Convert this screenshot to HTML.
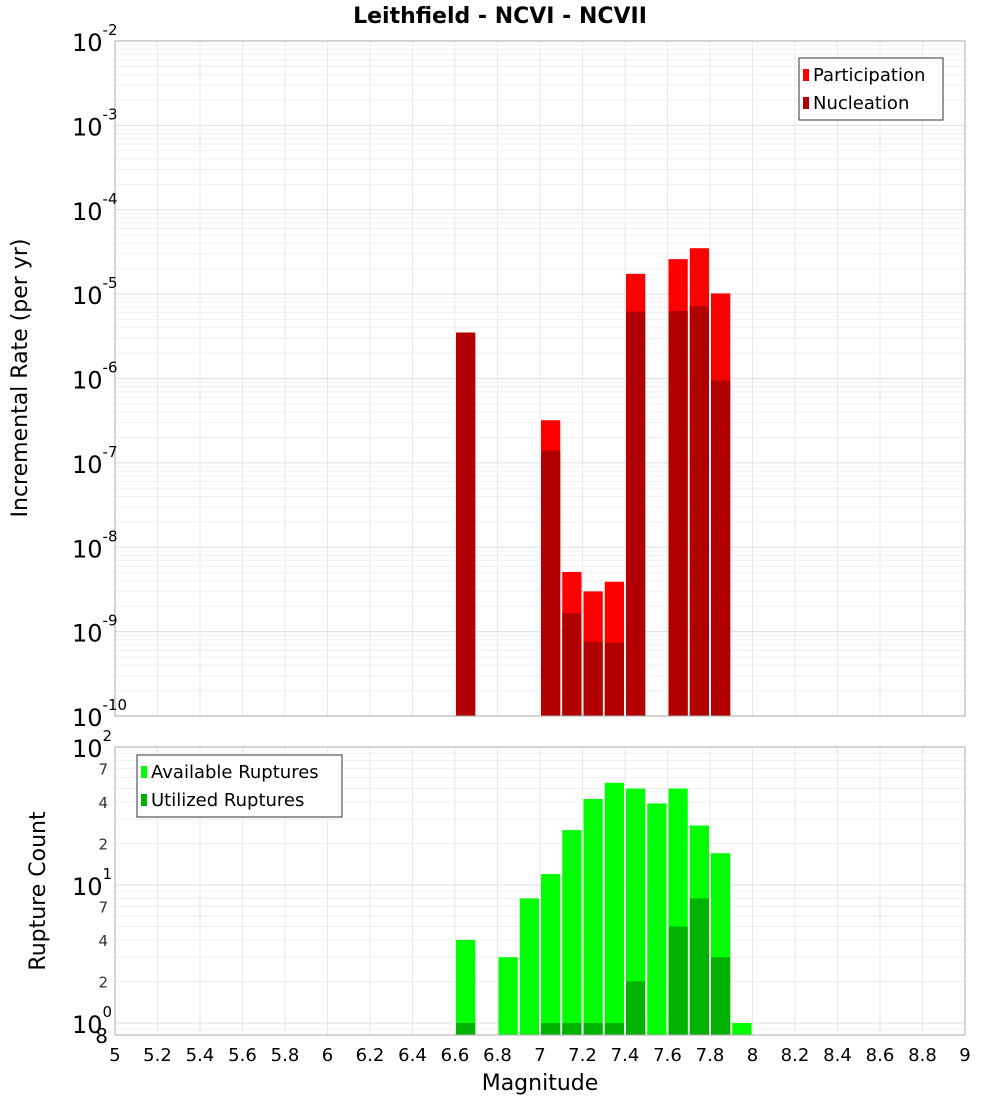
<!DOCTYPE html>
<html><head><meta charset="utf-8"><style>
body{margin:0;background:#fff;}
svg{display:block;font-family:"DejaVu Sans","Liberation Sans",sans-serif;}
</style></head><body>
<svg id="c" width="1000" height="1100" xmlns="http://www.w3.org/2000/svg"></svg>
<script>
const mags = [6.65, 7.05, 7.15, 7.25, 7.35, 7.45, 7.65, 7.75, 7.85];
const participation = [3.5e-6, 3.2e-7, 5.1e-9, 3.0e-9, 3.9e-9, 1.74e-5, 2.6e-5, 3.5e-5, 1.02e-5];
const nucleation = [3.5e-6, 1.4e-7, 1.65e-9, 7.6e-10, 7.4e-10, 6.2e-6, 6.3e-6, 7.2e-6, 9.5e-7];
const countMags = [6.65, 6.85, 6.95, 7.05, 7.15, 7.25, 7.35, 7.45, 7.55, 7.65, 7.75, 7.85, 7.95];
const available = [4, 3, 8, 12, 25, 42, 55, 50, 39, 50, 27, 17, 1];
const utilized = [1, 0, 0, 1, 1, 1, 1, 2, 0, 5, 8, 3, 0];
const xTicks = ["5","5.2","5.4","5.6","5.8","6","6.2","6.4","6.6","6.8","7","7.2","7.4","7.6","7.8","8","8.2","8.4","8.6","8.8","9"];

const NS="http://www.w3.org/2000/svg", svg=document.getElementById('c');
function mk(t,a,p){const e=document.createElementNS(NS,t);for(const k in a)e.setAttribute(k,a[k]);(p||svg).appendChild(e);return e;}
const X0=115,X1=965;
const xs=m=>X0+(m-5)/4*(X1-X0);
const T0=41,T1=716;
const yTop=v=>T0+(-2-Math.log10(v))/8*(T1-T0);
const B0=747,B1=1035,BD=138;
const yBot=v=>B0+(2-Math.log10(v))*BD;
const bw=(X1-X0)/40;

// grids
function vgrid(y0,y1){for(let i=0;i<=20;i++){const x=xs(5+i*0.2);const l=mk('line',{x1:x,x2:x,y1:y0,y2:y1,stroke:'#e8e8e8'});}}
vgrid(T0,T1);vgrid(B0,B1);
for(let d=-10;d<-2;d++)for(let k=1;k<10;k++){const y=yTop(k*Math.pow(10,d));const l=mk('line',{x1:X0,x2:X1,y1:y,y2:y,stroke:k==1?'#e0e0e0':'#f0f0f0'});}
for(let d=-1;d<2;d++)for(let k=1;k<10;k++){const v=k*Math.pow(10,d);const y=yBot(v);if(y>B1||y<B0)continue;const l=mk('line',{x1:X0,x2:X1,y1:y,y2:y,stroke:k==1?'#e0e0e0':'#f0f0f0'});}

// top bars
mags.forEach((m,i)=>{
  let r=mk('rect',{x:xs(m)-bw/2+1,width:bw-2,y:yTop(participation[i]),height:T1-yTop(participation[i]),fill:'#ff0000'});
  
  r=mk('rect',{x:xs(m)-bw/2+1,width:bw-2,y:yTop(nucleation[i]),height:T1-yTop(nucleation[i]),fill:'#b20000'});
  
});
countMags.forEach((m,i)=>{
  let r=mk('rect',{x:xs(m)-bw/2+1,width:bw-2,y:yBot(available[i]),height:B1-yBot(available[i]),fill:'#00ff00'});
  
  if(utilized[i]>0){r=mk('rect',{x:xs(m)-bw/2+1,width:bw-2,y:yBot(utilized[i]),height:B1-yBot(utilized[i]),fill:'#00b200'});
  }
});
// frames
let f=mk('rect',{x:X0,y:T0,width:X1-X0,height:T1-T0,fill:'none',stroke:'#aaa'});
f=mk('rect',{x:X0,y:B0,width:X1-X0,height:B1-B0,fill:'none',stroke:'#aaa'});

// top y labels
for(let d=-10;d<=-2;d++){const y=yTop(Math.pow(10,d));
  const t=mk('text',{x:72,y:y+10,'font-size':24,fill:'#000'});t.textContent='10';
  
  const s=mk('tspan',{dy:-16,'font-size':15},t);s.textContent=String(d);}
// bottom y labels
[[100,'2'],[10,'1'],[1,'0']].forEach(([v,e])=>{const y=yBot(v);
  const t=mk('text',{x:72,y:y+10,'font-size':24,fill:'#000'});t.textContent='10';
  
  const s=mk('tspan',{dy:-16,'font-size':15},t);s.textContent=e;});
[70,40,20,7,4,2].forEach(v=>{const t=mk('text',{x:108,y:yBot(v)+6,'font-size':15,fill:'#333','text-anchor':'end'});t.textContent=String(v).charAt(0);
  });
let t8=mk('text',{x:108,y:1043,'font-size':20,fill:'#000','text-anchor':'end'});t8.textContent='8';
// x labels
xTicks.forEach(s=>{const t=mk('text',{x:xs(parseFloat(s)),y:1061,'font-size':18,'text-anchor':'middle',fill:'#000'});t.textContent=s;
  });
// titles
function txt(s,a,name){const t=mk('text',a);t.textContent=s;return t;}
txt('Leithfield - NCVI - NCVII',{x:500,y:23,'font-size':22,'font-weight':'bold','text-anchor':'middle'},'chart-title');
txt('Magnitude',{x:540,y:1090,'font-size':22,'text-anchor':'middle'},'x-axis-title');
txt('Incremental Rate (per yr)',{x:0,y:0,'font-size':22,'text-anchor':'middle',transform:'translate(27,378) rotate(-90)'},'top-y-axis-title');
txt('Rupture Count',{x:0,y:0,'font-size':22,'text-anchor':'middle',transform:'translate(45,891) rotate(-90)'},'bottom-y-axis-title');
// legends
function legend(x,y,w,items,name){const g=mk('g',{});
  mk('rect',{x:x,y:y,width:w,height:items.length*28+6,fill:'#fff',stroke:'#333'},g);
  items.forEach(([c,s],i)=>{mk('rect',{x:x+4,y:y+11+i*28,width:6,height:12,fill:c},g);
    const t=mk('text',{x:x+14,y:y+23+i*28,'font-size':18},g);t.textContent=s;
    });}
legend(799,58,144,[['#ff0000','Participation'],['#b20000','Nucleation']],'top-legend');
legend(137,755,205,[['#00ff00','Available Ruptures'],['#00b200','Utilized Ruptures']],'bottom-legend');
</script>
</body></html>
